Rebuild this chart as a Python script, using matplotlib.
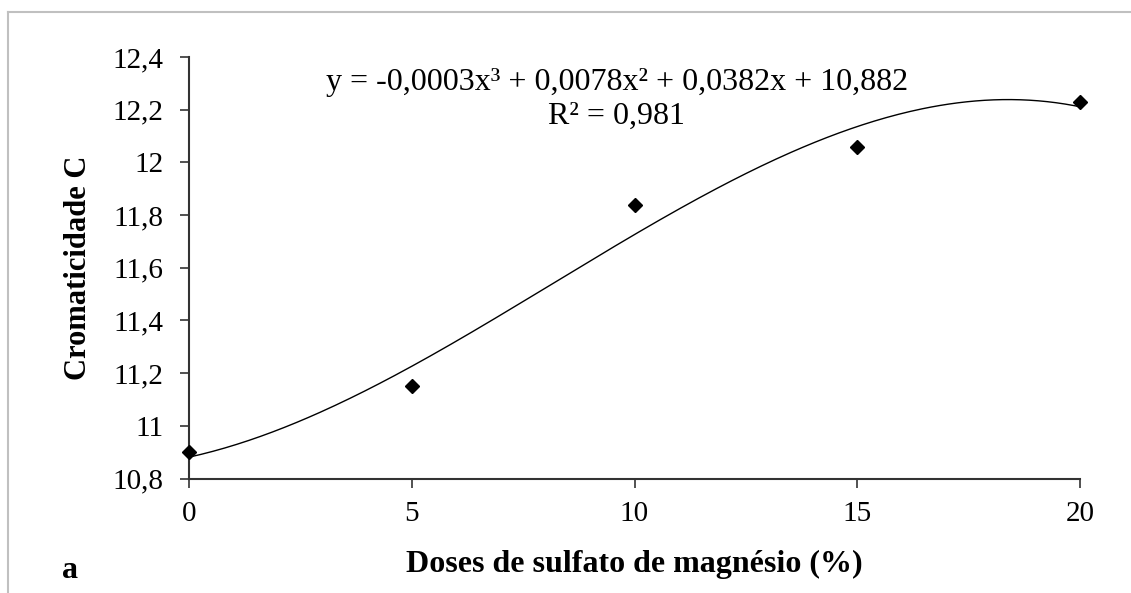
import numpy as np
import matplotlib.pyplot as plt
from matplotlib.lines import Line2D

# values
doses = [0, 5, 10, 15, 20]
croma = [10.90, 11.15, 11.84, 12.06, 12.23]
eq_text = 'y = -0,0003x\u00b3 + 0,0078x\u00b2 + 0,0382x + 10,882'
r2_text = 'R\u00b2 = 0,981'
x_ticks = [0, 5, 10, 15, 20]
y_ticks = [10.8, 11.0, 11.2, 11.4, 11.6, 11.8, 12.0, 12.2, 12.4]

plt.rcParams['font.family'] = ['Liberation Serif', 'DejaVu Serif']

W, H = 1131, 593
fig = plt.figure(figsize=(W / 100, H / 100), dpi=100)
ax = fig.add_axes([189 / W, 1 - 478.5 / H, (1080 - 189) / W, (478.5 - 57) / H])

# cubic trendline (same kind of fit as the spreadsheet)
coef = np.polyfit(doses, croma, 3)
xs = np.linspace(0, 20, 300)
ax.plot(xs, np.polyval(coef, xs), color='black', lw=1.0, clip_on=False)
ax.plot(doses, croma, linestyle='none', marker='D', ms=7.5, color='black',
        clip_on=False, zorder=5)

ax.set_xlim(0, 20)
ax.set_ylim(10.8, 12.4)
ax.set_xticks(x_ticks)
ax.set_yticks(y_ticks)
ax.set_yticklabels([('%g' % v).replace('.', ',') for v in y_ticks])

for s in ['top', 'right']:
    ax.spines[s].set_visible(False)
for s in ['left', 'bottom']:
    ax.spines[s].set_linewidth(1.5)
    ax.spines[s].set_color('#333333')
ax.tick_params(direction='out', length=6.5, width=1.2, color='#333333', labelsize=21)
ax.tick_params(axis='y', pad=12)
ax.tick_params(axis='x', pad=10)

ax.set_xlabel('Doses de sulfato de magnésio (%)', fontsize=23, fontweight='bold', va='baseline')
ax.xaxis.set_label_coords(0.5, (478.5 - 572) / 421.5)
ax.set_ylabel('Cromaticidade C', fontsize=22, fontweight='bold', va='center')
ax.yaxis.set_label_coords((78 - 189) / 891, 0.5)

ax.text(0.480, (478.5 - 90) / 421.5, eq_text, transform=ax.transAxes, ha='center', va='baseline', fontsize=23)
ax.text(0.480, (478.5 - 124) / 421.5, r2_text, transform=ax.transAxes, ha='center', va='baseline', fontsize=23)

fig.text(62 / W, 1 - 578 / H, 'a', fontsize=23, fontweight='bold', ha='left', va='baseline')

# outer chart-area frame (clipped at right and bottom)
fig.add_artist(Line2D([7.5 / W, 7.5 / W], [0, 1 - 12 / H], color='#c0c0c0', lw=1.5))
fig.add_artist(Line2D([7.5 / W, 1], [1 - 12 / H, 1 - 12 / H], color='#c0c0c0', lw=1.5))

fig.savefig('out.png', dpi=100)
